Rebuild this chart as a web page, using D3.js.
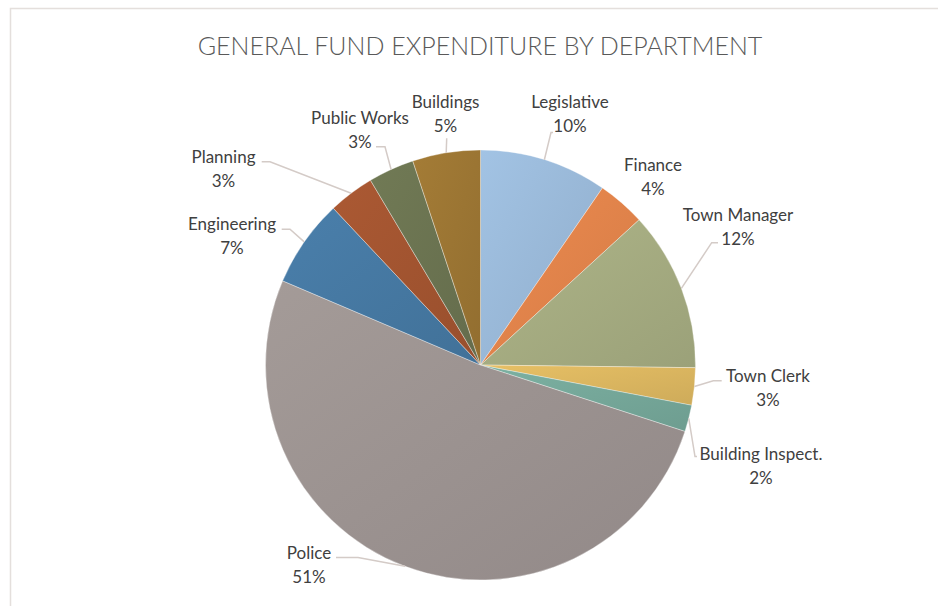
<!DOCTYPE html>
<html>
<head>
<meta charset="utf-8">
<script src="https://cdn.jsdelivr.net/npm/d3@7"></script>
<style>
  html, body { margin: 0; padding: 0; background: #ffffff; }
  svg { display: block; }
</style>
</head>
<body>
<svg id="chart" width="938" height="606"></svg>
<script>
// General fund expenditure, share of total by department (clockwise from 12 o'clock)
const departments = ["Legislative", "Finance", "Town Manager", "Town Clerk", "Building Inspect.",
                     "Police", "Engineering", "Planning", "Public Works", "Buildings"];
const expenditureShare = [9.6, 3.6, 12.0, 2.8, 2.0, 51.4, 6.6, 3.45, 3.45, 5.1];
const sliceColors = ["#98b7d6", "#df824a", "#a3aa80", "#d9b45f", "#74a698",
                     "#9a918f", "#4577a0", "#a05330", "#6a7250", "#9a7433"];

// Label placement: block centre relative to pie centre, leader elbow/end relative to the label centre
const labelLayout = [
  { dx: 89.5,   dy: -251.5, leader: [[-19, 19], [-17, 19]] },
  { dx: 172.5,  dy: -188.5, leader: null },
  { dx: 257.5,  dy: -139,   leader: [[-26.3, 16.7], [-20, 16.7]] },
  { dx: 287.5,  dy: 22,     leader: [[-54.7, -6.3], [-46.3, -6.3]] },
  { dx: 280.5,  dy: 100,    leader: [[-66, -8.5], [-64, -8.5]] },
  { dx: -171.5, dy: 199,    leader: [[49, -6.5], [27, -6.5]] },
  { dx: -248.5, dy: -129.5, leader: [[58, -6.2], [49.7, -6.2]] },
  { dx: -257,   dy: -196.5, leader: [[46.5, -6.8], [38.2, -6.8]] },
  { dx: -120.5, dy: -236,   leader: [[25, 17.7], [16, 17.7]] },
  { dx: -35,    dy: -252,   leader: [[1.2, 25.3], [1.2, 25.3]] }
];

const svg = d3.select("#chart");
const cx = 480.5, cy = 365, radius = 215;
const fontFamily = "Lato, Carlito, Calibri, 'Open Sans', sans-serif";

// Chart frame
svg.append("rect")
  .attr("x", 10.5).attr("y", 8.5)
  .attr("width", 1000).attr("height", 1000)
  .attr("fill", "none")
  .attr("stroke", "#e4dfdc")
  .attr("stroke-width", 1.5);

// Title
svg.append("text")
  .attr("x", 480).attr("y", 45)
  .attr("text-anchor", "middle")
  .attr("dominant-baseline", "central")
  .attr("font-family", fontFamily)
  .attr("font-weight", 300)
  .attr("font-size", 25)
  .attr("fill", "#595959")
  .text("GENERAL FUND EXPENDITURE BY DEPARTMENT");

const data = departments.map((name, i) => ({ name, value: expenditureShare[i], color: sliceColors[i], layout: labelLayout[i] }));
const total = d3.sum(expenditureShare);
const pct = d3.format(".0%");

const pie = d3.pie().value(d => d.value).sort(null);
const arcs = pie(data);
const arc = d3.arc().innerRadius(0).outerRadius(radius);

// Soft per-slice shading, lighter towards the top-left
const defs = svg.append("defs");
arcs.forEach((a, i) => {
  const g = defs.append("linearGradient")
    .attr("id", "slice-grad-" + i)
    .attr("x1", "0").attr("y1", "0").attr("x2", "1").attr("y2", "1");
  g.append("stop").attr("offset", "0%").attr("stop-color", d3.color(a.data.color).brighter(0.18));
  g.append("stop").attr("offset", "100%").attr("stop-color", d3.color(a.data.color).darker(0.15));
});

const pieG = svg.append("g").attr("transform", `translate(${cx},${cy})`);
pieG.selectAll("path.slice")
  .data(arcs)
  .join("path")
  .attr("class", "slice")
  .attr("d", arc)
  .attr("fill", (d, i) => `url(#slice-grad-${i})`)
  .attr("stroke", "rgba(255,255,255,0.45)")
  .attr("stroke-width", 0.75);

// Leader lines from the slice rim (mid angle) to the label
const leaderG = svg.append("g").attr("transform", `translate(${cx},${cy})`);
arcs.forEach(a => {
  const L = a.data.layout;
  if (!L.leader) return;
  const mid = (a.startAngle + a.endAngle) / 2;
  const start = [radius * Math.sin(mid), -radius * Math.cos(mid)];
  const pts = [start].concat(L.leader.map(p => [L.dx + p[0], L.dy + p[1]]));
  leaderG.append("path")
    .attr("d", d3.line()(pts))
    .attr("fill", "none")
    .attr("stroke", "#d4cbc7")
    .attr("stroke-width", 1.5);
});

// Data labels: department name and its share
const labelG = svg.append("g").attr("transform", `translate(${cx},${cy})`);
arcs.forEach(a => {
  const L = a.data.layout;
  const t = labelG.append("text")
    .attr("text-anchor", "middle")
    .attr("font-family", fontFamily)
    .attr("font-size", 17)
    .attr("fill", "#404040");
  t.append("tspan").attr("x", L.dx).attr("y", L.dy - 12).attr("dominant-baseline", "central").text(a.data.name);
  t.append("tspan").attr("x", L.dx).attr("y", L.dy + 12).attr("dominant-baseline", "central").text(pct(a.data.value / total));
});
</script>
</body>
</html>
